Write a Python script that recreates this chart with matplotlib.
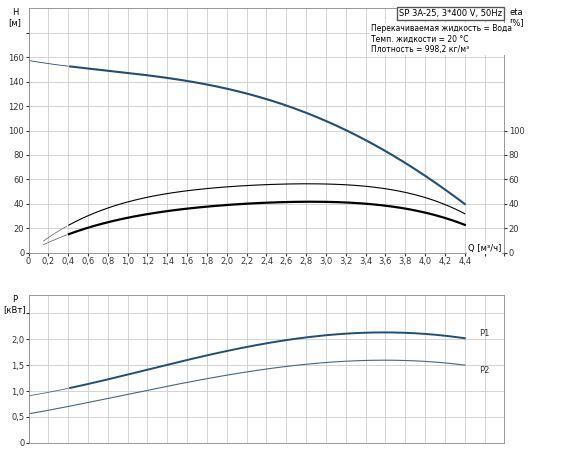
import numpy as np
import matplotlib.pyplot as plt

# H curve
q_h = [0, 0.4, 1.0, 1.6, 2.0, 2.4, 2.8, 3.2, 3.6, 4.0, 4.4]
h = [157, 153, 147, 140, 134, 126, 115, 100, 83, 63, 40]
# efficiency curves
q_eta = [0.15, 0.4, 0.6, 1.0, 1.6, 2.0, 2.6, 3.0, 3.6, 4.0, 4.4]
eta_up = [10, 22, 30, 42, 51, 54, 56, 56, 53, 45, 32]
eta_lo = [6, 16, 21, 28, 36, 39, 42, 42, 38, 33, 23]
# power curves
q_p = [0, 0.4, 1.0, 1.6, 2.0, 2.6, 3.0, 3.6, 4.0, 4.4]
p1 = [0.9, 1.07, 1.3, 1.6, 1.78, 1.98, 2.08, 2.13, 2.1, 2.02]
p2 = [0.56, 0.7, 0.93, 1.18, 1.3, 1.47, 1.55, 1.6, 1.57, 1.5]

def smooth(x, y):
    xs = np.linspace(x[0], x[-1], 200)
    c = np.polyfit(x, y, 4)
    return xs, np.polyval(c, xs)

blue = '#1f4e79'
fs = 6
fig = plt.figure(figsize=(5.7, 4.5), dpi=100)
ax = fig.add_axes([0.05, 0.438, 0.835, 0.544])
ax2 = fig.add_axes([0.05, 0.016, 0.835, 0.328])
for a in (ax, ax2):
    a.set_xlim(0, 4.8)
    a.set_xticks(np.arange(0, 4.81, 0.2))
    a.grid(True, color='#cccccc', lw=0.6)
    a.tick_params(labelsize=fs, length=2, colors='#333333', pad=1)
    for s in a.spines.values():
        s.set_color('#888888')
        s.set_linewidth(0.6)

ax.set_ylim(0, 200)
ax.set_yticks(range(0, 181, 20))
ax.set_yticklabels([str(v) if v <= 160 else '' for v in range(0, 181, 20)])
ax.set_xticklabels([('0' if v == 0 else f'{v:.1f}'.replace('.', ',')) if v < 4.5 else ''
                    for v in np.arange(0, 4.81, 0.2)])
axr = ax.twinx()
axr.set_ylim(0, 200)
axr.set_yticks(range(0, 101, 20))
axr.tick_params(labelsize=fs, length=2, colors='#333333', pad=1)
for s in axr.spines.values():
    s.set_visible(False)

x, y = smooth(q_h, h)
ax.plot(x[x <= 0.4], y[x <= 0.4], color=blue, lw=0.6)
ax.plot(x[x >= 0.4], y[x >= 0.4], color=blue, lw=1.5)
x, y = smooth(q_eta, eta_up)
ax.plot(x[x <= 0.4], y[x <= 0.4], color='#555555', lw=0.5)
ax.plot(x[x >= 0.4], y[x >= 0.4], color='black', lw=0.8)
x, y = smooth(q_eta, eta_lo)
ax.plot(x[x <= 0.4], y[x <= 0.4], color='#555555', lw=0.5)
ax.plot(x[x >= 0.4], y[x >= 0.4], color='black', lw=1.6)

ax.text(-0.015, 1.0, 'H\n[м]', transform=ax.transAxes, ha='right', va='top', fontsize=fs,
        multialignment='center')
ax.text(1.01, 1.0, 'eta\n[%]', transform=ax.transAxes, ha='left', va='top', fontsize=fs,
        multialignment='center')
ax.text(4.6, 0, 'Q [м³/ч]', ha='center', va='bottom', fontsize=fs,
        bbox=dict(facecolor='white', edgecolor='none', pad=0.5))
ax.text(0.995, 0.995, 'SP 3A-25, 3*400 V, 50Hz', transform=ax.transAxes, ha='right', va='top',
        fontsize=fs, bbox=dict(facecolor='white', edgecolor='#555555', pad=1.5))
ax.text(0.72, 0.935, 'Перекачиваемая жидкость = Вода\nТемп. жидкости = 20 °C\nПлотность = 998,2 кг/м³',
        transform=ax.transAxes, ha='left', va='top', fontsize=5.5, linespacing=1.2,
        bbox=dict(facecolor='white', edgecolor='none', pad=1))

ax2.set_ylim(0, 2.85)
ax2.set_yticks(np.arange(0, 2.51, 0.5))
ax2.set_yticklabels(['0', '0,5', '1,0', '1,5', '2,0', ''])
ax2.set_xticklabels([])
ax2.tick_params(axis='x', length=0)
x, y = smooth(q_p, p1)
ax2.plot(x[x <= 0.4], y[x <= 0.4], color='#446688', lw=0.6)
ax2.plot(x[x >= 0.4], y[x >= 0.4], color=blue, lw=1.4)
x, y = smooth(q_p, p2)
ax2.plot(x, y, color='#446688', lw=0.8)
ax2.text(4.6, 2.07, 'P1', fontsize=fs, color='#333333', ha='center')
ax2.text(4.6, 1.35, 'P2', fontsize=fs, color='#333333', ha='center')
ax2.text(-0.005, 1.0, 'P\n[кВт]', transform=ax2.transAxes, ha='right', va='top', fontsize=fs,
         multialignment='center')

fig.savefig('out.png', dpi=100)
